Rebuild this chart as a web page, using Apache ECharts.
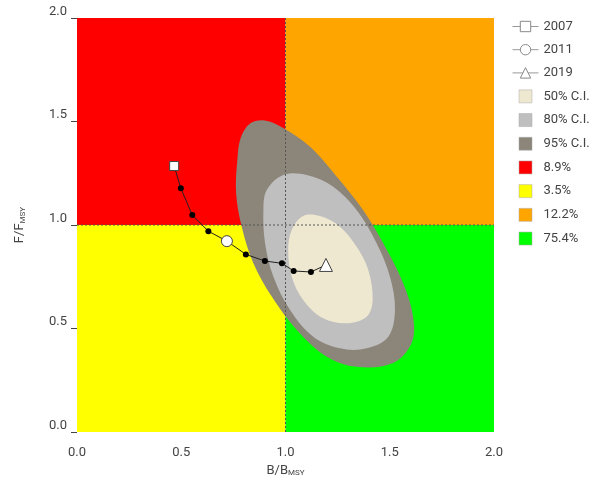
<!DOCTYPE html>
<html><head><meta charset="utf-8">
<script src="https://cdn.jsdelivr.net/npm/echarts@6/dist/echarts.min.js"></script>
<style>html,body{margin:0;padding:0;background:#fff}#main{width:614px;height:501px}</style>
</head><body><div id="main"></div>
<script>
var trajectory = [[0.466,1.285],[0.498,1.177],[0.553,1.048],[0.630,0.970],[0.719,0.922],[0.810,0.858],[0.901,0.826],[0.983,0.815],[1.039,0.778],[1.122,0.773],[1.194,0.807]]
var ci95 = [[0.785,1.420],[0.769,1.314],[0.763,1.155],[0.790,0.992],[0.846,0.815],[0.934,0.654],[1.054,0.493],[1.198,0.364],[1.341,0.315],[1.516,0.333],[1.605,0.430],[1.612,0.557],[1.564,0.720],[1.468,0.913],[1.372,1.072],[1.246,1.233],[1.118,1.378],[0.989,1.469],[0.900,1.505],[0.830,1.490]]
var ci80 = [[0.989,1.242],[0.910,1.169],[0.894,1.072],[0.902,0.912],[0.942,0.750],[1.022,0.589],[1.133,0.460],[1.261,0.404],[1.389,0.404],[1.493,0.460],[1.525,0.589],[1.501,0.750],[1.437,0.912],[1.341,1.072],[1.229,1.185],[1.102,1.242]]
var ci50 = [[1.085,1.043],[1.030,0.976],[1.013,0.879],[1.030,0.750],[1.085,0.638],[1.181,0.549],[1.294,0.525],[1.389,0.557],[1.418,0.638],[1.397,0.783],[1.341,0.895],[1.261,0.992],[1.165,1.043]]
var quadNames = ['8.9%','3.5%','12.2%','75.4%']
var quadBoxes = [[0,1,1,2],[0,0,1,1],[1,1,2,2],[1,0,2,1]]
var quadColors = ['#ff0000','#ffff00','#ffa500','#00ff00']

var myChart = echarts.init(document.getElementById('main'));

function polySeries(name, pts, color) {
    return {
        name: name, type: 'custom', data: [0], z: 3, silent: true,
        itemStyle: {color: color},
        renderItem: function (params, api) {
            return {type: 'polygon', shape: {points: pts.map(function (p) { return api.coord(p) }), smooth: 0.35},
                style: {fill: color}}
        }
    }
}
function quadSeries(i) {
    var b = quadBoxes[i]
    return {
        name: quadNames[i], type: 'custom', data: [0], z: 1, silent: true,
        itemStyle: {color: quadColors[i]},
        renderItem: function (params, api) {
            var p0 = api.coord([b[0], b[3]]), p1 = api.coord([b[2], b[1]])
            return {type: 'rect', shape: {x: p0[0], y: p0[1], width: p1[0] - p0[0], height: p1[1] - p0[1]},
                style: {fill: quadColors[i]}}
        }
    }
}
function yearSeries(name, pt, sym, size) {
    return {
        name: name, type: 'line', data: [pt], z: 6, symbol: sym, symbolSize: size,
        lineStyle: {color: '#999', width: 1},
        itemStyle: {color: '#fff', borderColor: '#444', borderWidth: 1}
    }
}

var series = [0,1,2,3].map(quadSeries)
series.push(polySeries('95% C.I.', ci95, '#8c857a'))
series.push(polySeries('80% C.I.', ci80, '#bfbfbf'))
series.push(polySeries('50% C.I.', ci50, '#efe8d0'))
series.push({
    type: 'line', data: trajectory, z: 5, symbol: 'circle', symbolSize: 6,
    lineStyle: {color: '#222', width: 1}, itemStyle: {color: '#000'}
})
series.push({
    type: 'line', data: [[1, 0], [1, 2]], z: 4, symbol: 'none', silent: true,
    lineStyle: {color: '#555', width: 1, type: [2, 2]}
})
series.push({
    type: 'line', data: [[0, 1], [2, 1]], z: 4, symbol: 'none', silent: true,
    lineStyle: {color: '#555', width: 1, type: [2, 2]}
})
series.push(yearSeries('2007', trajectory[0], 'rect', 9))
series.push(yearSeries('2011', trajectory[4], 'circle', 11))
series.push(yearSeries('2019', trajectory[10], 'triangle', 13))

var sq = 'path://M0,0h10v10h-10z'
function boxItem(n) { return {name: n, icon: sq, itemStyle: {borderColor: '#aaa', borderWidth: 0.5}} }
function yearItem(n) { return {name: n, itemStyle: {color: '#fff', borderColor: '#888', borderWidth: 1}, lineStyle: {color: '#999', width: 1}} }

myChart.setOption({
    animation: false,
    grid: {left: 77, right: 120, top: 18, bottom: 69},
    legend: {
        orient: 'vertical', left: 507, top: 15, itemGap: 10.2, itemWidth: 26, itemHeight: 13,
        textStyle: {fontFamily: 'Roboto', fontSize: 13, color: '#444'},
        data: [
            yearItem('2007'), yearItem('2011'), yearItem('2019'),
            boxItem('50% C.I.'), boxItem('80% C.I.'), boxItem('95% C.I.'),
            boxItem('8.9%'), boxItem('3.5%'), boxItem('12.2%'), boxItem('75.4%')
        ]
    },
    xAxis: {
        type: 'value', min: 0, max: 2, interval: 0.5,
        name: 'B/B{s|MSY}', nameLocation: 'middle', nameGap: 30,
        nameTextStyle: {fontFamily: 'Roboto', fontSize: 13, color: '#444', rich: {s: {fontSize: 8, verticalAlign: 'bottom', padding: [6, 0, 0, 0]}}},
        axisLine: {show: false}, axisTick: {show: false}, splitLine: {show: false},
        axisLabel: {fontFamily: 'Roboto', fontSize: 13, color: '#444', margin: 14, formatter: function (v) { return v.toFixed(1) }}
    },
    yAxis: {
        type: 'value', min: 0, max: 2, interval: 0.5,
        name: 'F/F{s|MSY}', nameLocation: 'middle', nameGap: 50,
        nameTextStyle: {fontFamily: 'Roboto', fontSize: 13, color: '#444', rich: {s: {fontSize: 8, verticalAlign: 'bottom', padding: [6, 0, 0, 0]}}},
        axisLine: {show: false}, axisTick: {show: true, inside: false, length: 6, lineStyle: {color: '#444'}}, splitLine: {show: false},
        axisLabel: {fontFamily: 'Roboto', fontSize: 13, color: '#444', margin: 10, verticalAlign: 'bottom', formatter: function (v) { return v.toFixed(1) }}
    },
    series: series
});
</script></body></html>
